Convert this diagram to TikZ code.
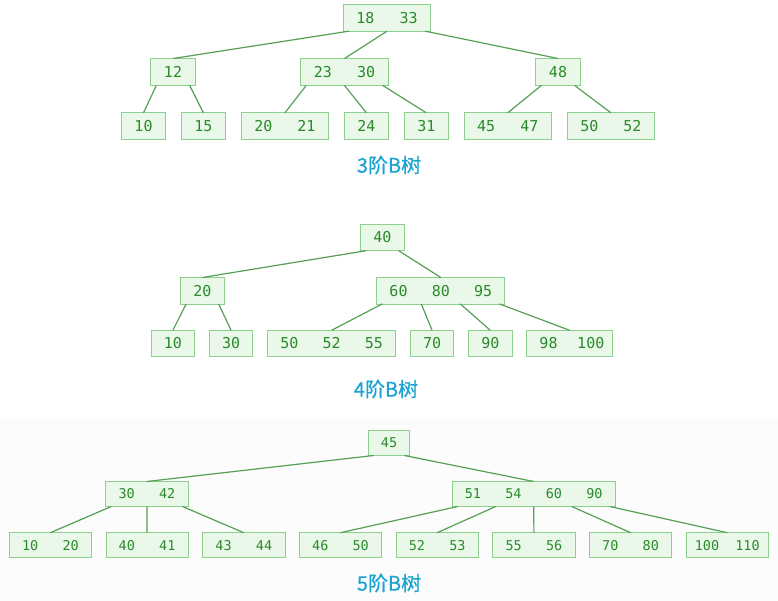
\documentclass[tikz,border=0pt]{standalone}
\usepackage{fontspec}
\setmonofont{DejaVu Sans Mono}
\newfontfamily\cjk[FakeBold=0.6]{Noto Sans CJK SC}
\usepackage{xcolor}
\usetikzlibrary{positioning, calc}

\definecolor{boxfill}{HTML}{EAF8EA}
\definecolor{boxline}{HTML}{8ECF8E}
\definecolor{keytext}{HTML}{2A8A2A}
\definecolor{edgeline}{HTML}{55A055}
\definecolor{titleblue}{HTML}{1BA3D2}
\definecolor{paper}{HTML}{FBFCFB}

\newlength{\keywd}
\newcommand{\kk}[1]{\makebox[\keywd]{#1}}
% link from pointer #2 (of #3 keys) of node #1 to child #4
\newcommand{\kid}[4]{\draw [line] ($([xshift=5.5pt]#1.south west)!#2/#3!([xshift=-5.5pt]#1.south east)$) -- (#4.north);}

\tikzstyle{block} = [draw=boxline, fill=boxfill, text=keytext, rectangle, inner xsep=0.6pt, inner ysep=0pt, outer sep=0pt, line width=0.8pt]
\tikzstyle{blockA} = [block, minimum height=27pt, font={\ttfamily\fontsize{15}{15}\selectfont\setlength{\keywd}{43.2pt}}]
\tikzstyle{blockB} = [block, minimum height=26.4pt, font={\ttfamily\fontsize{15}{15}\selectfont\setlength{\keywd}{42.3pt}}]
\tikzstyle{blockC} = [block, minimum height=25pt, font={\ttfamily\fontsize{13.5}{13.5}\selectfont\setlength{\keywd}{40.5pt}}]
\tikzstyle{line} = [draw=edgeline, line width=1.2pt]
\tikzstyle{title} = [text=titleblue, font={\cjk\fontsize{20}{20}\selectfont}]

\begin{document}
\begin{tikzpicture}[x=1pt, y=-1pt]
    \useasboundingbox (0,0) rectangle (778,601);
    \fill [paper] (0,418) rectangle (778,601);

    % 3阶
    \node [blockA] (r1) at (387,17.7) {\kk{18}\kk{33}};
    \node [blockA] (n1a) at (173,72) {\kk{12}};
    \node [blockA] (n1b) at (344.5,72) {\kk{23}\kk{30}};
    \node [blockA] (n1c) at (558,72) {\kk{48}};
    \node [blockA] (l1a) at (143.5,126.3) {\kk{10}};
    \node [blockA, right=15.5pt of l1a] (l1b) {\kk{15}};
    \node [blockA, right=15.5pt of l1b] (l1c) {\kk{20}\kk{21}};
    \node [blockA, right=15.5pt of l1c] (l1d) {\kk{24}};
    \node [blockA, right=15.5pt of l1d] (l1e) {\kk{31}};
    \node [blockA, right=15.5pt of l1e] (l1f) {\kk{45}\kk{47}};
    \node [blockA, right=15.5pt of l1f] (l1g) {\kk{50}\kk{52}};
    \node [title] (t1) at (389,165) {3阶B树};

    \kid{r1}{0}{2}{n1a} \kid{r1}{1}{2}{n1b} \kid{r1}{2}{2}{n1c}
    \kid{n1a}{0}{1}{l1a} \kid{n1a}{1}{1}{l1b}
    \kid{n1b}{0}{2}{l1c} \kid{n1b}{1}{2}{l1d} \kid{n1b}{2}{2}{l1e}
    \kid{n1c}{0}{1}{l1f} \kid{n1c}{1}{1}{l1g}

    % 4阶
    \node [blockB] (r2) at (382.4,237.5) {\kk{40}};
    \node [blockB] (n2a) at (202.4,290.7) {\kk{20}};
    \node [blockB] (n2b) at (440.8,290.7) {\kk{60}\kk{80}\kk{95}};
    \node [blockB] (l2a) at (172.9,343.5) {\kk{10}};
    \node [blockB, right=14.7pt of l2a] (l2b) {\kk{30}};
    \node [blockB, right=14.7pt of l2b] (l2c) {\kk{50}\kk{52}\kk{55}};
    \node [blockB, right=14.7pt of l2c] (l2d) {\kk{70}};
    \node [blockB, right=14.7pt of l2d] (l2e) {\kk{90}};
    \node [blockB, right=14.7pt of l2e] (l2f) {\kk{98}\kk{100}};
    \node [title] (t2) at (386,389) {4阶B树};

    \kid{r2}{0}{1}{n2a} \kid{r2}{1}{1}{n2b}
    \kid{n2a}{0}{1}{l2a} \kid{n2a}{1}{1}{l2b}
    \kid{n2b}{0}{3}{l2c} \kid{n2b}{1}{3}{l2d} \kid{n2b}{2}{3}{l2e} \kid{n2b}{3}{3}{l2f}

    % 5阶
    \node [blockC] (r3) at (389,443) {\kk{45}};
    \node [blockC] (n3a) at (146.9,494) {\kk{30}\kk{42}};
    \node [blockC] (n3b) at (533.7,494) {\kk{51}\kk{54}\kk{60}\kk{90}};
    \node [blockC] (l3a) at (50.4,545.2) {\kk{10}\kk{20}};
    \node [blockC, right=14.5pt of l3a] (l3b) {\kk{40}\kk{41}};
    \node [blockC, right=14.5pt of l3b] (l3c) {\kk{43}\kk{44}};
    \node [blockC, right=14.5pt of l3c] (l3d) {\kk{46}\kk{50}};
    \node [blockC, right=14.5pt of l3d] (l3e) {\kk{52}\kk{53}};
    \node [blockC, right=14.5pt of l3e] (l3f) {\kk{55}\kk{56}};
    \node [blockC, right=14.5pt of l3f] (l3g) {\kk{70}\kk{80}};
    \node [blockC, right=14.5pt of l3g] (l3h) {\kk{100}\kk{110}};
    \node [title] (t3) at (389,583) {5阶B树};

    \kid{r3}{0}{1}{n3a} \kid{r3}{1}{1}{n3b}
    \kid{n3a}{0}{2}{l3a} \kid{n3a}{1}{2}{l3b} \kid{n3a}{2}{2}{l3c}
    \kid{n3b}{0}{4}{l3d} \kid{n3b}{1}{4}{l3e} \kid{n3b}{2}{4}{l3f} \kid{n3b}{3}{4}{l3g} \kid{n3b}{4}{4}{l3h}
\end{tikzpicture}
\end{document}
